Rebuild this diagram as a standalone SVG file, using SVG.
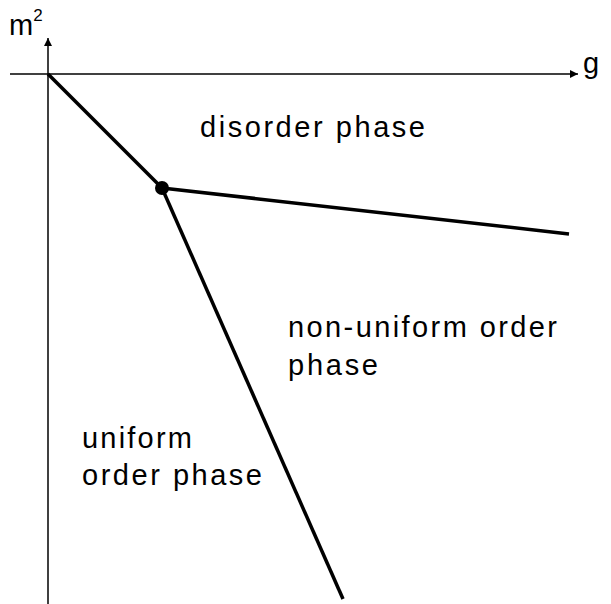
<svg xmlns="http://www.w3.org/2000/svg" width="611" height="604" viewBox="0 0 611 604">
<style>
.ax{stroke:#000;stroke-width:1.5;fill:none}
.ln{stroke:#000;stroke-width:3.5;fill:none;stroke-linecap:butt}
.t{font-family:"Liberation Sans",Arial,sans-serif;font-size:29px;fill:#000}
</style>
<defs>
<marker id="arr" viewBox="0 0 10 10" refX="10" refY="5" markerWidth="8" markerHeight="8" markerUnits="userSpaceOnUse" orient="auto">
<path d="M0,0 L10,5 L0,10 z" fill="#000"/>
</marker>
</defs>
<g id="connectors">
<line class="ax" x1="48" y1="604" x2="48" y2="38" marker-end="url(#arr)"/>
<line class="ax" x1="10" y1="74" x2="578" y2="74" marker-end="url(#arr)"/>
<line class="ln" x1="48" y1="74" x2="162" y2="188"/>
<line class="ln" x1="162" y1="188" x2="569" y2="234"/>
<line class="ln" x1="162" y1="188" x2="343" y2="599"/>
</g>
<g id="axis-labels">
<text class="t" x="9" y="35" font-size="31">m<tspan font-size="17" dy="-14">2</tspan></text>
<text class="t" x="583" y="73" font-size="31">g</text>
</g>
<g id="triple-point"><circle cx="162" cy="188" r="7" fill="#000"/></g>
<g id="disorder"><text class="t" x="200" y="137" textLength="225" lengthAdjust="spacing">disorder phase</text></g>
<g id="nonuniform">
<text class="t" x="288" y="337" textLength="269" lengthAdjust="spacing">non-uniform order</text>
<text class="t" x="288" y="375" textLength="90" lengthAdjust="spacing">phase</text>
</g>
<g id="uniform">
<text class="t" x="82" y="448" textLength="110" lengthAdjust="spacing">uniform</text>
<text class="t" x="82" y="485" textLength="180" lengthAdjust="spacing">order phase</text>
</g>
</svg>
